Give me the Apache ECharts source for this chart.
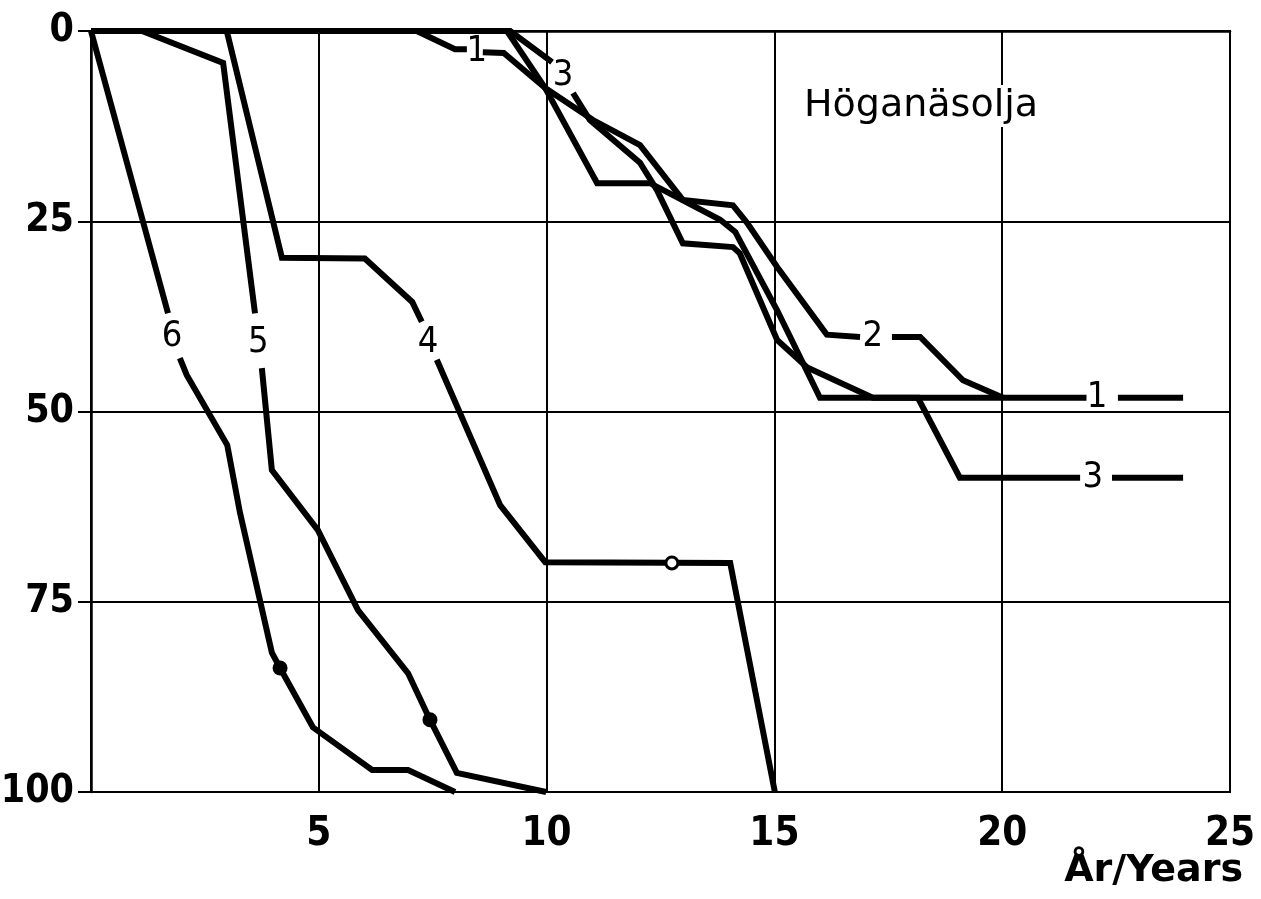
<!DOCTYPE html>
<html>
<head>
<meta charset="utf-8">
<script src="https://cdn.jsdelivr.net/npm/echarts@6/dist/echarts.min.js"></script>
<style>
  html, body { margin: 0; padding: 0; background: #fff; }
  #chart { width: 1261px; height: 899px; }
</style>
</head>
<body>
<div id="chart"></div>
<script>
// ---- data ----
const xTicks = [0, 5, 10, 15, 20, 25];
const xTickLabels = ['', '5', '10', '15', '20', '25'];
const yTicks = [0, 25, 50, 75, 100];
const yTickLabels = ['0', '25', '50', '75', '100'];

// null = break in the drawn line (where a curve label sits)
const curve1 = [[0,0],[7.15,0],[7.99,2.4],[8.25,2.4],null,[8.6,2.8],[9.06,2.9],[9.97,7.5],[11.11,20.0],[12.27,20.0],[13.81,24.8],[14.14,26.4],[15.06,36.7],[16.0,48.2],[21.85,48.2],null,[22.54,48.2],[23.97,48.2]];
const curve2 = [[0,0],[9.13,0],[9.97,7.5],[11.02,11.7],[12.05,15.0],[12.99,22.2],[14.09,22.9],[14.4,25.2],[15.06,31.0],[16.15,39.9],[16.88,40.2],null,[17.58,40.2],[18.2,40.2],[19.14,45.9],[20.02,48.2]];
const curve3 = [[0,0],[9.2,0],[10.12,4.1],null,[10.58,8.15],[10.95,11.7],[12.05,17.3],[12.42,20.9],[12.99,27.9],[14.09,28.4],[14.24,29.2],[15.06,40.6],[15.72,44.2],[17.16,48.2],[18.15,48.2],[19.07,58.7],[21.71,58.7],null,[22.41,58.7],[23.97,58.7]];
const curve4 = [[0,0],[2.98,0],[4.19,29.8],[6.01,29.9],[7.05,35.6],[7.26,38.2],null,[7.59,43.2],[8.98,62.3],[9.97,69.8],[14.03,69.9],[15.01,100]];
const curve5 = [[0,0],[1.12,0],[2.9,4.2],[3.6,37.1],null,[3.75,44.3],[3.97,57.7],[4.98,65.6],[5.86,76.1],[6.96,84.4],[7.44,90.5],[8.03,97.5],[9.99,100]];
const curve6 = [[0,0],[1.69,37.1],null,[1.95,43.0],[2.1,45.2],[2.99,54.4],[3.27,63.3],[3.97,81.7],[4.15,83.7],[4.87,91.5],[6.17,97.1],[6.96,97.1],[7.99,100]];

const labelText = ['1', '3', '2', '1', '3', '4', '5', '6'];
const labelX    = [8.47, 10.36, 17.16, 22.08, 21.99, 7.40, 3.67, 1.78];
const labelY    = [2.7, 5.9, 40.2, 48.2, 58.7, 40.9, 41.0, 40.1];

const filledDots = [[4.15, 83.7], [7.44, 90.5]];
const openDots = [[12.75, 69.9]];

const title = 'Höganäsolja';
const xAxisName = 'År/Years';

// ---- build ----
function segments(curve) {
  const segs = [];
  let cur = [];
  curve.forEach(p => {
    if (p === null) { if (cur.length) segs.push(cur); cur = []; }
    else cur.push(p);
  });
  if (cur.length) segs.push(cur);
  return segs;
}

const series = [];
[curve1, curve2, curve3, curve4, curve5, curve6].forEach(c => {
  segments(c).forEach(seg => {
    series.push({
      type: 'line',
      data: seg,
      symbol: 'none',
      lineStyle: { color: '#000', width: 6, join: 'miter', cap: 'butt', opacity: 1 },
      z: 3,
      silent: true
    });
  });
});

series.push({
  type: 'scatter',
  data: filledDots,
  symbol: 'circle',
  symbolSize: 15,
  itemStyle: { color: '#000', opacity: 1 },
  z: 5
});
series.push({
  type: 'scatter',
  data: openDots,
  symbol: 'circle',
  symbolSize: 12,
  itemStyle: { color: '#fff', borderColor: '#000', borderWidth: 3, opacity: 1 },
  z: 5
});
series.push({
  type: 'scatter',
  data: labelText.map((t, i) => [labelX[i], labelY[i], t]),
  symbolSize: 1,
  itemStyle: { color: 'rgba(0,0,0,0)', opacity: 0 },
  label: {
    show: true,
    position: 'inside',
    formatter: p => p.data[2],
    color: '#000',
    opacity: 1,
    fontFamily: '"DejaVu Sans Condensed", "DejaVu Sans"',
    fontSize: 36
  },
  z: 6
});

const chart = echarts.init(document.getElementById('chart'), null, { renderer: 'canvas' });
chart.setOption({
  animation: false,
  backgroundColor: '#fff',
  grid: {
    left: 91, right: 31, top: 31, bottom: 107,
    outerBoundsMode: 'none',
    containLabel: false,
    show: true, borderColor: '#000', borderWidth: 2, backgroundColor: 'transparent'
  },
  xAxis: {
    type: 'value', min: 0, max: 25, interval: 5,
    axisLine: { show: true, lineStyle: { color: '#000', width: 2.5 } },
    axisTick: { show: true, length: 14, inside: false, lineStyle: { color: '#000', width: 2 } },
    splitLine: { show: true, lineStyle: { color: '#000', width: 2 } },
    axisLabel: {
      margin: 23,
      color: '#000',
      fontFamily: '"DejaVu Sans Condensed", "DejaVu Sans", sans-serif',
      fontWeight: 'bold',
      fontSize: 40,
      formatter: v => xTickLabels[xTicks.indexOf(v)] ?? ''
    }
  },
  yAxis: {
    type: 'value', min: 0, max: 100, interval: 25, inverse: true,
    axisLine: { show: true, lineStyle: { color: '#000', width: 2.5 } },
    axisTick: { show: true, length: 13, inside: false, lineStyle: { color: '#000', width: 2 } },
    splitLine: { show: true, lineStyle: { color: '#000', width: 2 } },
    axisLabel: {
      margin: 17,
      color: '#000',
      fontFamily: '"DejaVu Sans Condensed", "DejaVu Sans", sans-serif',
      fontWeight: 'bold',
      fontSize: 39,
      formatter: v => yTickLabels[yTicks.indexOf(v)] ?? ''
    }
  },
  graphic: [
    {
      type: 'text', left: 802, top: 85, z: 10,
      style: {
        text: title, fill: '#000',
        font: '38px "DejaVu Sans"',
        backgroundColor: '#fff', padding: [2, 2]
      }
    },
    {
      type: 'text', right: 18, top: 852, z: 10,
      style: {
        text: xAxisName, fill: '#000',
        font: 'bold 38px "DejaVu Sans"'
      }
    }
  ],
  series: series
});
</script>
</body>
</html>
